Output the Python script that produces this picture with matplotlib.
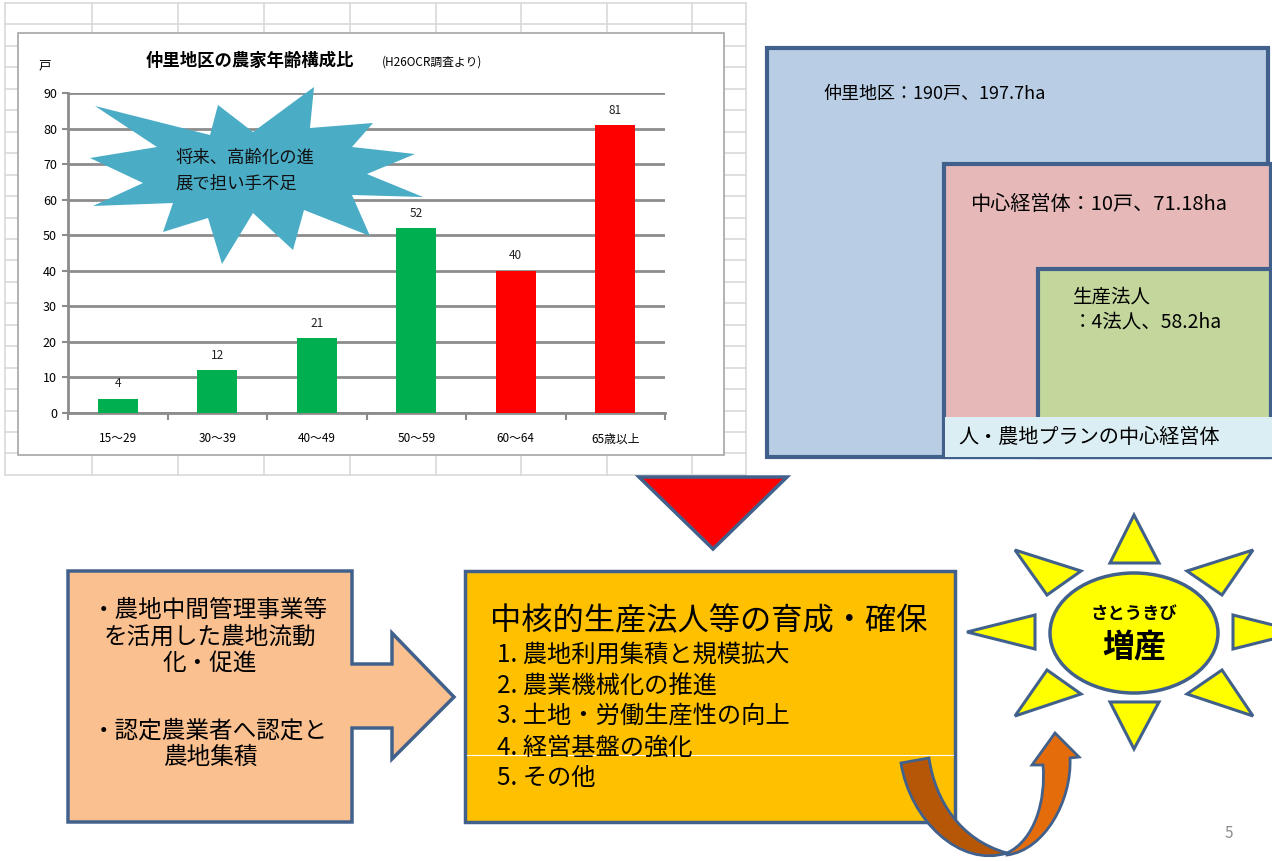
import matplotlib
matplotlib.use('Agg')
import matplotlib.pyplot as plt
from matplotlib.patches import Polygon, Rectangle, Ellipse, PathPatch
from matplotlib.path import Path

plt.rcParams['font.family'] = ['Noto Sans CJK JP', 'DejaVu Sans']

# ---------------- data ----------------
categories = ['15～29', '30～39', '40～49', '50～59', '60～64', '65歳以上']
households = [4, 12, 21, 52, 40, 81]
bar_colors = ['#00B050', '#00B050', '#00B050', '#00B050', '#FF0000', '#FF0000']
y_ticks = [0, 10, 20, 30, 40, 50, 60, 70, 80, 90]

chart_title = '仲里地区の農家年齢構成比'
chart_source = '(H26OCR調査より)'
y_unit = '戸'
burst_text = '将来、高齢化の進\n展で担い手不足'

area_labels = ['仲里地区：190戸、197.7ha', '中心経営体：10戸、71.18ha', '生産法人\n：4法人、58.2ha']
plan_label = '人・農地プランの中心経営体'

left_items = ['・農地中間管理事業等\nを活用した農地流動\n化・促進', '・認定農業者へ認定と\n農地集積']
center_title = '中核的生産法人等の育成・確保'
center_items = ['1. 農地利用集積と規模拡大', '2. 農業機械化の推進', '3. 土地・労働生産性の向上',
                '4. 経営基盤の強化', '5. その他']
sun_small = 'さとうきび'
sun_big = '増産'
page_no = '5'

# ---------------- figure ----------------
W, H = 1272, 861
fig = plt.figure(figsize=(W / 100, H / 100), dpi=100)
bg = fig.add_axes([0, 0, 1, 1])
bg.set_xlim(0, W)
bg.set_ylim(H, 0)
bg.axis('off')

EDGE = '#41618C'

# spreadsheet grid
grid_c = '#D9D9D9'
for k in range(23):
    y = 3 + k * 21.45
    bg.plot([5, 746], [y, y], color=grid_c, lw=1.2, zorder=1)
for x in [5, 92, 178, 264, 350, 436, 521, 607, 692, 746]:
    bg.plot([x, x], [3, 475], color=grid_c, lw=1.2, zorder=1)

# chart box
bg.add_patch(Rectangle((18, 33), 706, 422, facecolor='white', edgecolor='#A6A6A6', lw=1.2, zorder=2))
bg.text(45, 66, y_unit, fontsize=9, ha='center', va='center', zorder=3)
bg.text(250, 61, chart_title, fontsize=12.5, fontweight='bold', ha='center', va='center', zorder=3)
bg.text(432, 62, chart_source, fontsize=8.5, ha='center', va='center', zorder=3)

# ---------------- bar chart ----------------
ax = fig.add_axes([68 / W, 1 - 413 / H, (665 - 68) / W, (413 - 93) / H])
ax.set_facecolor('none')
xs = list(range(len(categories)))
ax.bar(xs, households, width=0.4, color=bar_colors, zorder=3)
for x, v in zip(xs, households):
    ax.annotate(str(v), (x, v), xytext=(0, 6), textcoords='offset points',
                ha='center', va='bottom', fontsize=8.5, color='#222222')
ax.set_xlim(-0.5, len(categories) - 0.5)
ax.set_ylim(0, 90)
ax.set_yticks(y_ticks)
ax.set_yticklabels([str(t) for t in y_ticks], fontsize=9)
ax.set_xticks(xs)
ax.set_xticklabels(categories, fontsize=8.5)
ax.set_xticks([i - 0.5 for i in range(len(categories) + 1)], minor=True)
ax.tick_params(axis='x', which='major', length=0, pad=14)
ax.tick_params(axis='x', which='minor', length=5, width=1.5, color='#8C8C8C')
ax.tick_params(axis='y', length=4, width=1.5, color='#8C8C8C', pad=4)
ax.yaxis.grid(True, color='#8C8C8C', lw=2)
ax.set_axisbelow(True)
for s in ['top', 'right']:
    ax.spines[s].set_visible(False)
for s in ['left', 'bottom']:
    ax.spines[s].set_color('#8C8C8C')
    ax.spines[s].set_linewidth(2)

# starburst (on top of gridlines)
burst = [(95, 106), (210, 135), (218, 105), (253, 132), (314, 87), (310, 128), (373, 123),
         (352, 147), (415, 154), (367, 174), (423, 197), (352, 195), (370, 236), (304, 210),
         (293, 250), (253, 213), (222, 264), (208, 218), (163, 232), (173, 203), (93, 206),
         (143, 183), (90, 158), (157, 147)]
ax.add_patch(Polygon(burst, closed=True, facecolor='#4BACC6', edgecolor='none',
                     transform=bg.transData, clip_on=False, zorder=5))
ax.text(175, 171, burst_text, transform=bg.transData, fontsize=12.5, ha='left', va='center',
        linespacing=1.55, color='#111111', zorder=6)

# ---------------- nested boxes ----------------
bg.add_patch(Rectangle((767, 48), 501, 409, facecolor='#B9CDE5', edgecolor=EDGE, lw=3, zorder=2))
bg.add_patch(Rectangle((944, 164), 327, 293, facecolor='#E6B9B8', edgecolor=EDGE, lw=3, zorder=3))
bg.add_patch(Rectangle((1038, 269), 233, 188, facecolor='#C3D69B', edgecolor=EDGE, lw=3, zorder=4))
bg.add_patch(Rectangle((945, 417), 327, 40, facecolor='#DBEEF4', edgecolor='none', zorder=5))
bg.text(823, 94, area_labels[0], fontsize=13, ha='left', va='center', zorder=6)
bg.text(970, 205, area_labels[1], fontsize=14.5, ha='left', va='center', zorder=6)
bg.text(1073, 310, area_labels[2], fontsize=14, ha='left', va='center', linespacing=1.25, zorder=6)
bg.text(958, 437, plan_label, fontsize=14.5, ha='left', va='center', zorder=6)

# red triangle
bg.add_patch(Polygon([(639, 477), (787, 477), (713, 549)], closed=True,
                     facecolor='#FF0000', edgecolor=EDGE, lw=2.5, zorder=3))

# ---------------- left arrow box ----------------
arrow_box = [(68, 571), (352, 571), (352, 664), (392, 664), (392, 633), (454, 697),
             (392, 759), (392, 728), (352, 728), (352, 822), (68, 822)]
bg.add_patch(Polygon(arrow_box, closed=True, facecolor='#FAC090', edgecolor=EDGE, lw=2.5, zorder=3))
bg.text(210, 637, left_items[0], fontsize=17, ha='center', va='center', linespacing=1.2, zorder=4)
bg.text(210, 744, left_items[1], fontsize=17, ha='center', va='center', linespacing=1.2, zorder=4)

# ---------------- center box ----------------
bg.add_patch(Rectangle((465, 571), 490, 251, facecolor='#FFC000', edgecolor=EDGE, lw=2.5, zorder=3))
bg.plot([467, 953], [755, 755], color='white', lw=0.8, zorder=4)
bg.text(490, 621, center_title, fontsize=22.5, ha='left', va='center', zorder=5)
for i, item in enumerate(center_items):
    bg.text(497, 656 + i * 30.5, item, fontsize=17.5, ha='left', va='center', zorder=5)

# ---------------- sun ----------------
SUN = '#FFFF00'
rays = [
    [(1134, 515), (1110, 563), (1159, 563)],
    [(1015, 550), (1081, 571), (1047, 595)],
    [(1253, 550), (1187, 571), (1222, 595)],
    [(967, 632), (1035, 615), (1035, 649)],
    [(1301, 632), (1233, 615), (1233, 649)],
    [(1015, 716), (1047, 670), (1081, 694)],
    [(1253, 716), (1222, 670), (1187, 694)],
    [(1134, 749), (1110, 702), (1159, 702)],
]
for r in rays:
    bg.add_patch(Polygon(r, closed=True, facecolor=SUN, edgecolor=EDGE, lw=2.2, zorder=3))
bg.add_patch(Ellipse((1134, 633), 168, 120, facecolor=SUN, edgecolor=EDGE, lw=2.5, zorder=4))
bg.text(1134, 614, sun_small, fontsize=12.5, fontweight='bold', ha='center', va='center', zorder=5)
bg.text(1134, 648, sun_big, fontsize=23, fontweight='bold', ha='center', va='center', zorder=5)

# ---------------- curved arrow ----------------
M, L, C, Z = Path.MOVETO, Path.LINETO, Path.CURVE4, Path.CLOSEPOLY
orange_verts = [(1007, 855), (1045, 850), (1072, 800), (1070, 758), (1079, 757), (1055, 733),
                (1032, 765), (1043, 765), (1046, 800), (1035, 840), (1007, 853), (1007, 855)]
orange_codes = [M, C, C, C, L, L, L, L, C, C, C, Z]
bg.add_patch(PathPatch(Path(orange_verts, orange_codes), facecolor='#E46C0A', edgecolor=EDGE,
                       lw=2, zorder=6))
dark_verts = [(901, 763), (929, 758), (935, 800), (960, 840), (1007, 853), (960, 868), (910, 820),
              (901, 763), (901, 763)]
dark_codes = [M, L, C, C, C, C, C, C, Z]
bg.add_patch(PathPatch(Path(dark_verts, dark_codes), facecolor='#B65708', edgecolor=EDGE,
                       lw=2, zorder=7))

# page number
bg.text(1229, 833, page_no, fontsize=11, color='#8C8C8C', ha='center', va='center')

fig.savefig('out.png', dpi=100)
